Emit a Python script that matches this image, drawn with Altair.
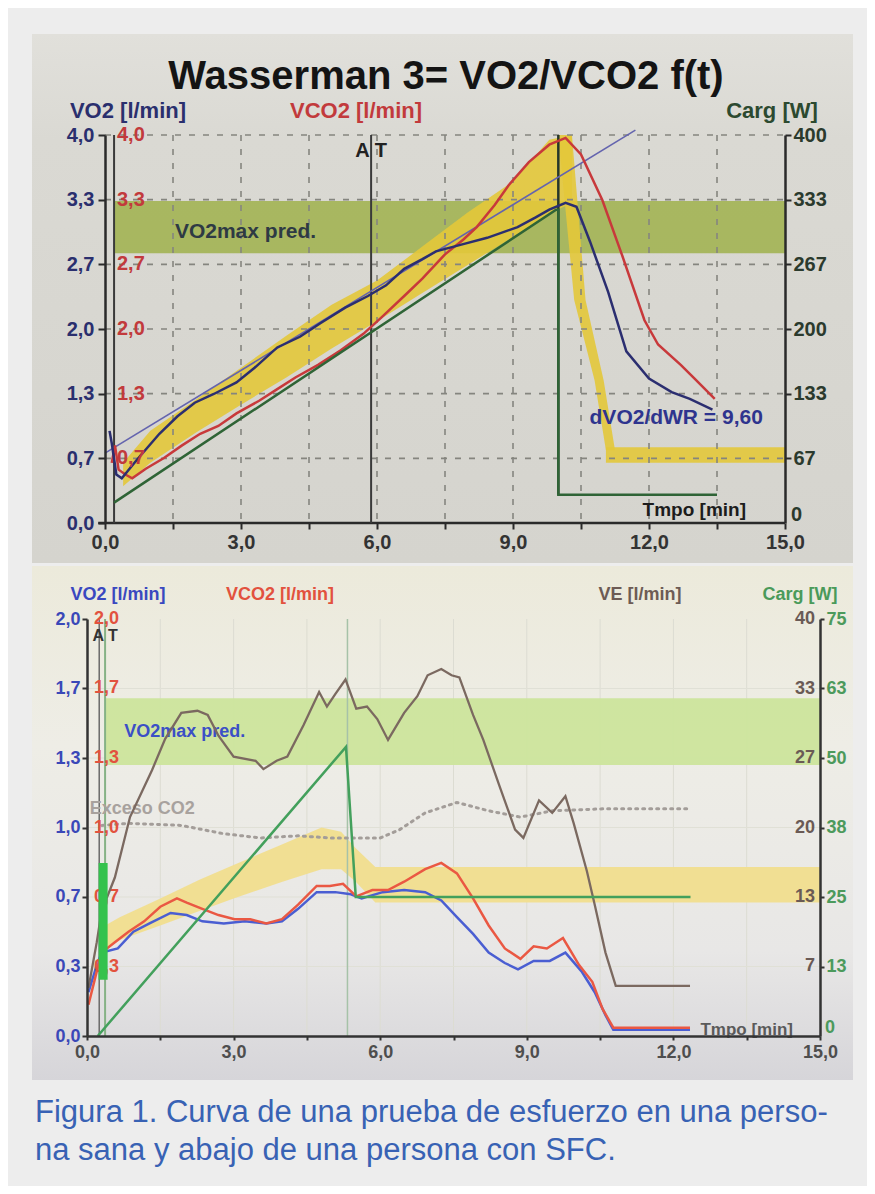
import altair as alt
import pandas as pd

FONT = "Liberation Sans"

# ------------------------------------------------------------------ data
time_ticks = [0, 1.5, 3, 4.5, 6, 7.5, 9, 10.5, 12, 13.5, 15]

# ---- top panel (healthy subject) ----
top_vo2_ticks = [0, 0.6667, 1.3333, 2.0, 2.6667, 3.3333, 4.0]
top_carg_ticks = [0, 66.667, 133.333, 200, 266.667, 333.333, 400]

top_vco2_t = [0.15, 0.22, 0.3, 0.45, 0.6, 0.9, 1.3, 1.7, 2.1, 2.5, 2.9, 3.4, 3.8, 4.2, 4.7, 5.2,
              5.7, 6.1, 6.6, 7.0, 7.5, 7.9, 8.2, 8.6, 8.9, 9.35, 9.8, 10.16, 10.5, 10.97, 11.4,
              11.9, 12.2, 12.7, 13.0, 13.45]
top_vco2 = [0.62, 0.8, 0.55, 0.5, 0.46, 0.56, 0.67, 0.8, 0.92, 1.0, 1.13, 1.26, 1.38, 1.5, 1.63,
            1.78, 1.95, 2.12, 2.34, 2.52, 2.77, 2.92, 3.05, 3.28, 3.48, 3.72, 3.9, 3.97, 3.8, 3.33,
            2.77, 2.09, 1.84, 1.63, 1.49, 1.28]
top_vo2_t = [0.1, 0.15, 0.25, 0.37, 0.7, 1.2, 1.6, 1.98, 2.4, 2.9, 3.3, 3.8, 4.3, 4.75, 5.3, 5.8,
             6.2, 6.6, 7.0, 7.3, 7.86, 8.43, 9.1, 9.5, 9.8, 10.16, 10.4, 10.7, 11.1, 11.5, 12.0,
             12.5, 12.9, 13.4]
top_vo2 = [0.95, 0.82, 0.5, 0.46, 0.65, 0.92, 1.1, 1.24, 1.33, 1.45, 1.6, 1.81, 1.92, 2.06, 2.22,
           2.34, 2.45, 2.62, 2.72, 2.8, 2.87, 2.94, 3.05, 3.15, 3.23, 3.3, 3.26, 2.9, 2.38, 1.77,
           1.49, 1.35, 1.28, 1.17]
top_carg_t = [0.2, 9.95, 10.0, 10.0, 13.5]
top_carg = [21, 323, 323, 29, 29]
top_fit_t = [0.0, 11.7]
top_fit = [0.72, 4.05]
top_band_t = [0.4, 1.0, 2.0, 3.0, 4.0, 5.0, 6.0, 7.0, 8.0, 9.0, 9.8, 10.3]
top_band_lo = [0.38, 0.62, 0.93, 1.22, 1.5, 1.8, 2.08, 2.37, 2.66, 2.95, 3.19, 3.3]
top_band_hi = [0.62, 0.95, 1.27, 1.6, 1.93, 2.25, 2.5, 2.85, 3.2, 3.52, 3.95, 4.0]
top_drop_v = [4.0, 2.3, 1.47, 0.75]
top_drop_t1 = [10.0, 10.35, 10.8, 11.05]
top_drop_t2 = [10.3, 10.6, 11.0, 11.25]
top_rec_t = [11.05, 15.0]
top_rec_v = [0.62, 0.78]
top_pred_t = [0.2, 15.0]
top_pred_v = [2.78, 3.32]
top_marks_t = [0.2, 5.87]          # start marker, AT
top_end_t = [10.0]
top_end_v = [0.29, 4.0]

# ---- bottom panel (patient with SFC) ----
bot_vo2_ticks = [0, 0.3333, 0.6667, 1.0, 1.3333, 1.6667, 2.0]
bot_carg_ticks = [0, 12.5, 25, 37.5, 50, 62.5, 75]
bot_ve_ticks = [6.667, 13.333, 20, 26.667, 33.333, 40]

bot_vo2_t = [0.03, 0.2, 0.3, 0.63, 0.95, 1.28, 1.71, 2.04, 2.36, 2.8, 3.23, 3.67, 3.99, 4.32, 4.7,
             5.08, 5.4, 5.62, 6.05, 6.49, 6.92, 7.25, 7.57, 7.9, 8.22, 8.55, 8.82, 9.14, 9.47,
             9.79, 10.12, 10.39, 10.61, 10.77, 12.34]
bot_vo2 = [0.21, 0.34, 0.4, 0.42, 0.5, 0.54, 0.59, 0.58, 0.55, 0.54, 0.55, 0.54, 0.55, 0.61, 0.69,
           0.69, 0.68, 0.66, 0.69, 0.70, 0.69, 0.65, 0.57, 0.49, 0.40, 0.35, 0.32, 0.36, 0.36,
           0.40, 0.31, 0.21, 0.10, 0.03, 0.03]
bot_vco2_t = [0.03, 0.2, 0.3, 0.57, 0.85, 1.17, 1.5, 1.84, 2.04, 2.36, 2.69, 3.02, 3.34, 3.67,
              3.99, 4.32, 4.7, 4.97, 5.24, 5.51, 5.84, 6.16, 6.49, 6.92, 7.25, 7.57, 7.9, 8.22,
              8.55, 8.87, 9.14, 9.41, 9.74, 10.07, 10.34, 10.55, 10.77, 12.34]
bot_vco2 = [0.15, 0.31, 0.4, 0.45, 0.5, 0.55, 0.62, 0.66, 0.64, 0.61, 0.58, 0.56, 0.56, 0.54,
            0.56, 0.63, 0.72, 0.72, 0.73, 0.67, 0.70, 0.70, 0.74, 0.80, 0.83, 0.78, 0.66, 0.53,
            0.42, 0.37, 0.43, 0.42, 0.47, 0.34, 0.26, 0.13, 0.04, 0.04]
bot_ve_t = [0.03, 0.2, 0.3, 0.57, 0.88, 1.33, 1.6, 1.93, 2.26, 2.47, 2.69, 3.0, 3.45, 3.61, 3.88,
            4.1, 4.43, 4.75, 4.91, 5.08, 5.29, 5.51, 5.73, 5.94, 6.16, 6.49, 6.76, 6.97, 7.25,
            7.46, 7.62, 7.9, 8.11, 8.44, 8.76, 8.93, 9.25, 9.52, 9.79, 9.96, 10.23, 10.39,
            10.61, 10.82, 12.34]
bot_ve = [4.6, 9.0, 12.0, 15.2, 21.0, 25.5, 28.5, 31.0, 31.2, 30.8, 28.8, 26.8, 26.4, 25.6, 26.4,
          26.8, 29.8, 33.0, 31.6, 32.8, 34.2, 31.4, 31.6, 30.4, 28.4, 31.0, 32.6, 34.6, 35.2,
          34.6, 34.4, 30.8, 28.4, 24.0, 19.8, 19.0, 22.6, 21.4, 23.0, 20.4, 15.8, 12.6, 8.0,
          4.8, 4.8]
bot_carg_t = [0.22, 5.3, 5.5, 12.35]
bot_carg = [0, 52, 25, 25]
bot_exc_t = [0.3, 0.85, 1.93, 2.8, 3.56, 4.32, 4.97, 5.62, 6.0, 6.4, 6.92, 7.57, 8.22, 8.87,
             9.52, 10.6, 12.34]
bot_exc = [1.01, 1.02, 1.01, 0.97, 0.95, 0.96, 0.95, 0.95, 0.95, 0.99, 1.07, 1.12, 1.08, 1.05,
           1.08, 1.09, 1.09]
bot_band_t = [0.3, 0.67, 1.5, 2.3, 3.0, 4.0, 4.8, 5.2, 5.5, 5.9, 15.0]
bot_band_lo = [0.40, 0.46, 0.53, 0.60, 0.66, 0.74, 0.80, 0.80, 0.74, 0.64, 0.64]
bot_band_hi = [0.52, 0.57, 0.66, 0.75, 0.82, 0.92, 1.00, 0.98, 0.90, 0.81, 0.81]
bot_pred_t = [0.37, 15.0]
bot_pred_v = [1.30, 1.62]
bot_bar_t = [0.33]
bot_bar_v = [0.27, 0.83]

caption_text = ("Figura 1. Curva de una prueba de esfuerzo en una perso-\n"
                "na sana y abajo de una persona con SFC.")

# ------------------------------------------------------------------ helpers
LBL_X = "datum.value % 3 == 0 ? replace(format(datum.value, '.1f'), '.', ',') : ''"
LBL_Y = "replace(format(datum.value, '.1f'), '.', ',')"
LBL_INT = "format(datum.value, '.0f')"


def series(t, v, name="v"):
    return pd.DataFrame({"t": t, name: v, "i": list(range(len(t)))})


def one(**kw):
    return pd.DataFrame({k: [v] for k, v in kw.items()})


def ptext(label, px, py, color, size, align="center", baseline="alphabetic", weight="bold"):
    return alt.Chart(one(label=label)).mark_text(
        align=align, baseline=baseline, color=color, fontSize=size,
        fontWeight=weight, font=FONT
    ).encode(x=alt.value(px), y=alt.value(py), text="label:N")


def vgrad(stops):
    return alt.LinearGradient(
        gradient="linear", x1=0, x2=0, y1=0, y2=1,
        stops=[alt.GradientStop(offset=o, color=c) for o, c in stops])


def photo(x0, x1, y0, y1, fill):
    return alt.Chart(one(k=0)).mark_rect(fill=fill, strokeWidth=0).encode(
        x=alt.value(x0), x2=alt.value(x1), y=alt.value(y0), y2=alt.value(y1))


# All three stacked views share the same left origin (bottom panel's y axis).
# The top panel's time axis starts SHIFT px to the right of that origin.
SHIFT = 18
PX0, PX1 = -55, 766          # photo frame, relative to the common origin

# ================================================================== TOP PANEL
TW0, TH = 680, 388
TW = TW0 + SHIFT
xs_t = alt.Scale(domain=[-SHIFT * 15 / TW0, 15], nice=False, zero=False)
ys_t = alt.Scale(domain=[0, 4], nice=False, zero=False)
xax_t = alt.Axis(values=time_ticks, labelExpr=LBL_X, grid=False, domain=False,
                 tickColor="#2a2a2a", tickWidth=2, tickSize=6, labelFont=FONT,
                 labelFontSize=20, labelFontWeight="bold", labelColor="#333333",
                 labelPadding=3, labelFlush=False, labelOverlap=False, zindex=1)
yax_t = alt.Axis(values=top_vo2_ticks, labelExpr=LBL_Y, grid=False, domainColor="#2a2a2a",
                 domainWidth=2.5, tickColor="#2a2a2a", tickWidth=2, tickSize=7, labelFont=FONT,
                 labelFontSize=20, labelFontWeight="bold", labelColor="#2a2f6e",
                 labelPadding=4, labelFlush=False, labelOverlap=False, offset=-SHIFT, zindex=1)


def XT(f):
    return alt.X(f, type="quantitative", scale=xs_t, axis=xax_t, title=None)


def YT(f):
    return alt.Y(f, type="quantitative", scale=ys_t, axis=yax_t, title=None)


top_layers = [
    photo(PX0, PX1, -101, TH + 40,
          vgrad([(0, "#e1e0db"), (0.2, "#dad9d3"), (1, "#d5d4ce")])),
    alt.Chart(one(t0=top_pred_t[0], t1=top_pred_t[1], lo=top_pred_v[0], hi=top_pred_v[1]))
    .mark_rect(color="#9fb24c", opacity=0.85)
    .encode(x=XT("t0"), x2="t1", y=YT("lo"), y2="hi"),
    alt.Chart(pd.DataFrame({"t": top_band_t, "lo": top_band_lo, "hi": top_band_hi}))
    .mark_area(color="#e3c83a", opacity=0.9)
    .encode(x=XT("t"), y=YT("lo"), y2="hi"),
    alt.Chart(pd.DataFrame({"v": top_drop_v, "t1": top_drop_t1, "t2": top_drop_t2}))
    .mark_area(color="#e3c83a", opacity=0.9, orient="horizontal")
    .encode(y=YT("v"), x=XT("t1"), x2="t2"),
    alt.Chart(one(t0=top_rec_t[0], t1=top_rec_t[1], lo=top_rec_v[0], hi=top_rec_v[1]))
    .mark_rect(color="#e3c83a", opacity=0.9)
    .encode(x=XT("t0"), x2="t1", y=YT("lo"), y2="hi"),
    # dashed grid
    alt.Chart(pd.DataFrame({"t": time_ticks[1:-1]}))
    .mark_rule(color="#85857f", strokeWidth=1.6, strokeDash=[6, 8])
    .encode(x=XT("t")),
    alt.Chart(pd.DataFrame({"v": top_vo2_ticks[1:], "t0": [0] * 6, "t1": [15] * 6}))
    .mark_rule(color="#85857f", strokeWidth=1.6, strokeDash=[6, 8])
    .encode(y=YT("v"), x=XT("t0"), x2="t1"),
    # time axis line
    alt.Chart(one(t0=-0.15, t1=15, v=0))
    .mark_rule(color="#2a2a2a", strokeWidth=2.5)
    .encode(y=YT("v"), x=XT("t0"), x2="t1"),
    # start marker and anaerobic threshold
    alt.Chart(pd.DataFrame({"t": top_marks_t}))
    .mark_rule(color="#3a3a3a", strokeWidth=2)
    .encode(x=XT("t")),
    alt.Chart(one(t=top_end_t[0], lo=top_end_v[0], hi=top_end_v[1]))
    .mark_rule(color="#26362a", strokeWidth=2.5)
    .encode(x=XT("t"), y=YT("lo"), y2="hi"),
    # regression line
    alt.Chart(series(top_fit_t, top_fit))
    .mark_line(color="#6464ae", strokeWidth=1.6)
    .encode(x=XT("t"), y=YT("v"), order="i"),
    alt.Chart(series(top_vco2_t, top_vco2))
    .mark_line(color="#c8393b", strokeWidth=2.5)
    .encode(x=XT("t"), y=YT("v"), order="i"),
    alt.Chart(series(top_vo2_t, top_vo2))
    .mark_line(color="#2b2e70", strokeWidth=2.5)
    .encode(x=XT("t"), y=YT("v"), order="i"),
    # red VCO2 scale labels inside the left axis
    alt.Chart(pd.DataFrame({"t": [0] * 6, "v": top_vo2_ticks[1:]}))
    .transform_calculate(lab=LBL_Y.replace("datum.value", "datum.v"))
    .mark_text(align="left", baseline="middle", dx=12, color="#c23a3c", fontSize=20,
               fontWeight="bold", font=FONT)
    .encode(x=XT("t"), y=YT("v"), text="lab:N"),
    # annotations
    alt.Chart(one(label="VO2max pred.", t=3.1, v=3.0))
    .mark_text(color="#2e3a44", fontSize=21, fontWeight="bold", font=FONT, baseline="middle")
    .encode(x=XT("t"), y=YT("v"), text="label:N"),
    alt.Chart(one(label="dVO2/dWR = 9,60", t=12.6, v=1.08))
    .mark_text(color="#2e348e", fontSize=21, fontWeight="bold", font=FONT, baseline="middle")
    .encode(x=XT("t"), y=YT("v"), text="label:N"),
    alt.Chart(one(label="Tmpo [min]", t=13.0, v=0.13))
    .mark_text(color="#1c1c1c", fontSize=19, fontWeight="bold", font=FONT)
    .encode(x=XT("t"), y=YT("v"), text="label:N"),
    alt.Chart(one(label="A T", t=top_marks_t[1], v=3.84))
    .mark_text(color="#222222", fontSize=20, fontWeight="bold", font=FONT, baseline="middle")
    .encode(x=XT("t"), y=YT("v"), text="label:N"),
    # title and axis titles
    ptext("Wasserman 3= VO2/VCO2 f(t)", 359, -46, "#141414", 40),
    ptext("VO2 [l/min]", 41, -17, "#2a2f6e", 22),
    ptext("VCO2 [l/min]", 269, -17, "#c23a3c", 22),
    ptext("Carg [W]", 685, -17, "#2c4a30", 22),
]

top_main = alt.layer(*top_layers)
ys_tw = alt.Scale(domain=[0, 400], nice=False, zero=False)
top_carg_group = alt.layer(
    alt.Chart(series(top_carg_t, top_carg, "w")).mark_line(color="#2f6436", strokeWidth=2.5)
    .encode(
        x=XT("t"),
        y=alt.Y("w", type="quantitative", title=None, scale=ys_tw,
                axis=alt.Axis(orient="right", values=top_carg_ticks[1:], labelExpr=LBL_INT,
                              grid=False, domainColor="#2a2a2a", domainWidth=2.5,
                              tickColor="#2a2a2a", tickWidth=2, tickSize=6, labelFont=FONT,
                              labelFontSize=20, labelFontWeight="bold", labelColor="#2b3a2d",
                              labelPadding=2, labelFlush=False, labelOverlap=False, zindex=1)),
        order="i",
    ),
    # zero label of the load axis, lifted above the time-axis labels
    alt.Chart(pd.DataFrame({"t": [15], "w": top_carg_ticks[:1]}))
    .mark_text(align="left", baseline="bottom", dx=6, dy=2, color="#2b3a2d", fontSize=20,
               fontWeight="bold", font=FONT)
    .encode(x=XT("t"), y=alt.Y("w", type="quantitative", scale=ys_tw),
            text=alt.Text("w:Q", format=".0f")),
)
top = alt.layer(top_main, top_carg_group).resolve_scale(y="independent").properties(
    width=TW, height=TH)

# ================================================================== BOTTOM PANEL
BW, BH = 733, 417
xs_b = alt.Scale(domain=[0, 15], nice=False, zero=False)
ys_b = alt.Scale(domain=[0, 2], nice=False, zero=False)
xax_b = alt.Axis(values=time_ticks, labelExpr=LBL_X, grid=False, domainColor="#333333",
                 domainWidth=2.5, tickColor="#333333", tickWidth=2, tickSize=4, labelFont=FONT,
                 labelFontSize=18, labelFontWeight="bold", labelColor="#4e4e4e",
                 labelPadding=3, labelFlush=False, labelOverlap=False, zindex=1)
yax_b = alt.Axis(values=bot_vo2_ticks, labelExpr=LBL_Y, grid=False, domainColor="#333333",
                 domainWidth=2.5, tickColor="#333333", tickWidth=2, tickSize=5, labelFont=FONT,
                 labelFontSize=18, labelFontWeight="bold", labelColor="#3a48b8",
                 labelPadding=2, labelFlush=False, labelOverlap=False, zindex=1)


def XB(f):
    return alt.X(f, type="quantitative", scale=xs_b, axis=xax_b, title=None)


def YB(f):
    return alt.Y(f, type="quantitative", scale=ys_b, axis=yax_b, title=None)


bot_layers = [
    photo(PX0, PX1, -53, BH + 44,
          vgrad([(0, "#eceadb"), (0.35, "#eeede6"), (0.75, "#e8e7e6"), (1, "#d6d5d9")])),
    alt.Chart(pd.DataFrame({"t": time_ticks[1:-1]}))
    .mark_rule(color="#dcdcd2", strokeWidth=1)
    .encode(x=XB("t")),
    alt.Chart(pd.DataFrame({"v": bot_vo2_ticks[1:-1]}))
    .mark_rule(color="#e0e0d6", strokeWidth=1)
    .encode(y=YB("v")),
    alt.Chart(one(t0=bot_pred_t[0], t1=bot_pred_t[1], lo=bot_pred_v[0], hi=bot_pred_v[1]))
    .mark_rect(color="#cce59c", opacity=0.95)
    .encode(x=XB("t0"), x2="t1", y=YB("lo"), y2="hi"),
    alt.Chart(pd.DataFrame({"t": bot_band_t, "lo": bot_band_lo, "hi": bot_band_hi}))
    .mark_area(color="#f1de8e", opacity=0.95)
    .encode(x=XB("t"), y=YB("lo"), y2="hi"),
    # AT markers and end-of-load line
    alt.Chart(one(t=0.25)).mark_rule(color="#6a6a6a", strokeWidth=1.5).encode(x=XB("t")),
    alt.Chart(one(t=0.37)).mark_rule(color="#86b286", strokeWidth=2).encode(x=XB("t")),
    alt.Chart(one(t=5.33)).mark_rule(color="#a6c2a8", strokeWidth=1.5).encode(x=XB("t")),
    alt.Chart(series(bot_exc_t, bot_exc))
    .mark_line(color="#a39d99", strokeWidth=3, strokeDash=[2, 5], strokeCap="round")
    .encode(x=XB("t"), y=YB("v"), order="i"),
    alt.Chart(series(bot_vo2_t, bot_vo2))
    .mark_line(color="#4a5ed2", strokeWidth=2.5)
    .encode(x=XB("t"), y=YB("v"), order="i"),
    alt.Chart(series(bot_vco2_t, bot_vco2))
    .mark_line(color="#ea5843", strokeWidth=2.5)
    .encode(x=XB("t"), y=YB("v"), order="i"),
    # red VCO2 scale labels
    alt.Chart(pd.DataFrame({"t": [0] * 6, "v": bot_vo2_ticks[1:]}))
    .transform_calculate(lab=LBL_Y.replace("datum.value", "datum.v"))
    .mark_text(align="left", baseline="middle", dx=7, color="#e2523e", fontSize=18,
               fontWeight="bold", font=FONT)
    .encode(x=XB("t"), y=YB("v"), text="lab:N"),
    alt.Chart(one(label="VO2max pred.", t=2.0, v=1.46))
    .mark_text(color="#3b4fc6", fontSize=18, fontWeight="bold", font=FONT, baseline="middle")
    .encode(x=XB("t"), y=YB("v"), text="label:N"),
    alt.Chart(one(label="Exceso CO2", t=1.13, v=1.09))
    .mark_text(color="#a8a29e", fontSize=18, fontWeight="bold", font=FONT, baseline="middle")
    .encode(x=XB("t"), y=YB("v"), text="label:N"),
    alt.Chart(one(label="Tmpo [min]", t=13.5, v=0.03))
    .mark_text(color="#5a5a5a", fontSize=17, fontWeight="bold", font=FONT)
    .encode(x=XB("t"), y=YB("v"), text="label:N"),
    alt.Chart(one(label="A T", t=0.37, v=1.92))
    .mark_text(color="#333333", fontSize=16, fontWeight="bold", font=FONT, baseline="middle")
    .encode(x=XB("t"), y=YB("v"), text="label:N"),
    ptext("VO2 [l/min]", 31, -19, "#3a48c0", 18),
    ptext("VCO2 [l/min]", 193, -19, "#e2523e", 18),
    ptext("VE [l/min]", 553, -19, "#6d5b55", 18),
    ptext("Carg [W]", 713, -19, "#4a9a5a", 18),
]
bot_main = alt.layer(*bot_layers)

ys_ve = alt.Scale(domain=[0, 40], nice=False, zero=False)
bot_ve_group = alt.layer(
    alt.Chart(series(bot_ve_t, bot_ve, "ve")).mark_line(color="#7b6960", strokeWidth=2.3)
    .encode(x=XB("t"), y=alt.Y("ve", type="quantitative", scale=ys_ve, axis=None), order="i"),
    alt.Chart(pd.DataFrame({"t": [15] * 6, "ve": bot_ve_ticks}))
    .mark_text(align="right", baseline="middle", dx=-5, color="#6a5a55", fontSize=18,
               fontWeight="bold", font=FONT)
    .encode(x=XB("t"), y=alt.Y("ve", type="quantitative", scale=ys_ve, axis=None),
            text=alt.Text("ve:Q", format=".0f")),
)

ys_bw = alt.Scale(domain=[0, 75], nice=False, zero=False)
bot_carg_group = alt.layer(
    alt.Chart(series(bot_carg_t, bot_carg, "w")).mark_line(color="#43a05c", strokeWidth=2.5)
    .encode(
        x=XB("t"),
        y=alt.Y("w", type="quantitative", title=None, scale=ys_bw,
                axis=alt.Axis(orient="right", values=bot_carg_ticks[1:], labelExpr=LBL_INT,
                              grid=False, domainColor="#333333", domainWidth=2.5,
                              tickColor="#333333", tickWidth=2, tickSize=4, labelFont=FONT,
                              labelFontSize=18, labelFontWeight="bold", labelColor="#4c9a5c",
                              labelPadding=2, labelFlush=False, labelOverlap=False, zindex=1)),
        order="i",
    ),
    alt.Chart(pd.DataFrame({"t": [15], "w": bot_carg_ticks[:1]}))
    .mark_text(align="left", baseline="bottom", dx=5, dy=1, color="#4c9a5c", fontSize=18,
               fontWeight="bold", font=FONT)
    .encode(x=XB("t"), y=alt.Y("w", type="quantitative", scale=ys_bw),
            text=alt.Text("w:Q", format=".0f")),
    alt.Chart(one(t=bot_bar_t[0], lo=bot_bar_v[0] * 37.5, hi=bot_bar_v[1] * 37.5))
    .mark_rule(color="#34c24d", strokeWidth=9)
    .encode(x=XB("t"), y=alt.Y("lo", type="quantitative", scale=ys_bw), y2="hi"),
)

bottom = alt.layer(bot_main, bot_ve_group, bot_carg_group).resolve_scale(
    y="independent").properties(width=BW, height=BH)

# ================================================================== CAPTION
CH = 95
caption = alt.layer(
    photo(PX0, PX1, 0, CH, "#ededed"),
    alt.Chart(pd.DataFrame({"caption": [caption_text]})).mark_text(
        align="left", baseline="alphabetic", color="#3862b4", fontSize=31,
        font=FONT, lineBreak="\n", lineHeight=38
    ).encode(x=alt.value(PX0 + 3), y=alt.value(39), text="caption:N"),
).properties(width=BW, height=CH)

chart = alt.concat(top, bottom, caption, columns=1, spacing=3, align="none",
                   bounds="full").properties(
    padding={"left": 24, "top": 26, "right": 14, "bottom": 8},
    background="#ededed",
).configure_view(stroke=None)

chart.save("out.html", embed_options={"renderer": "svg", "actions": False})
